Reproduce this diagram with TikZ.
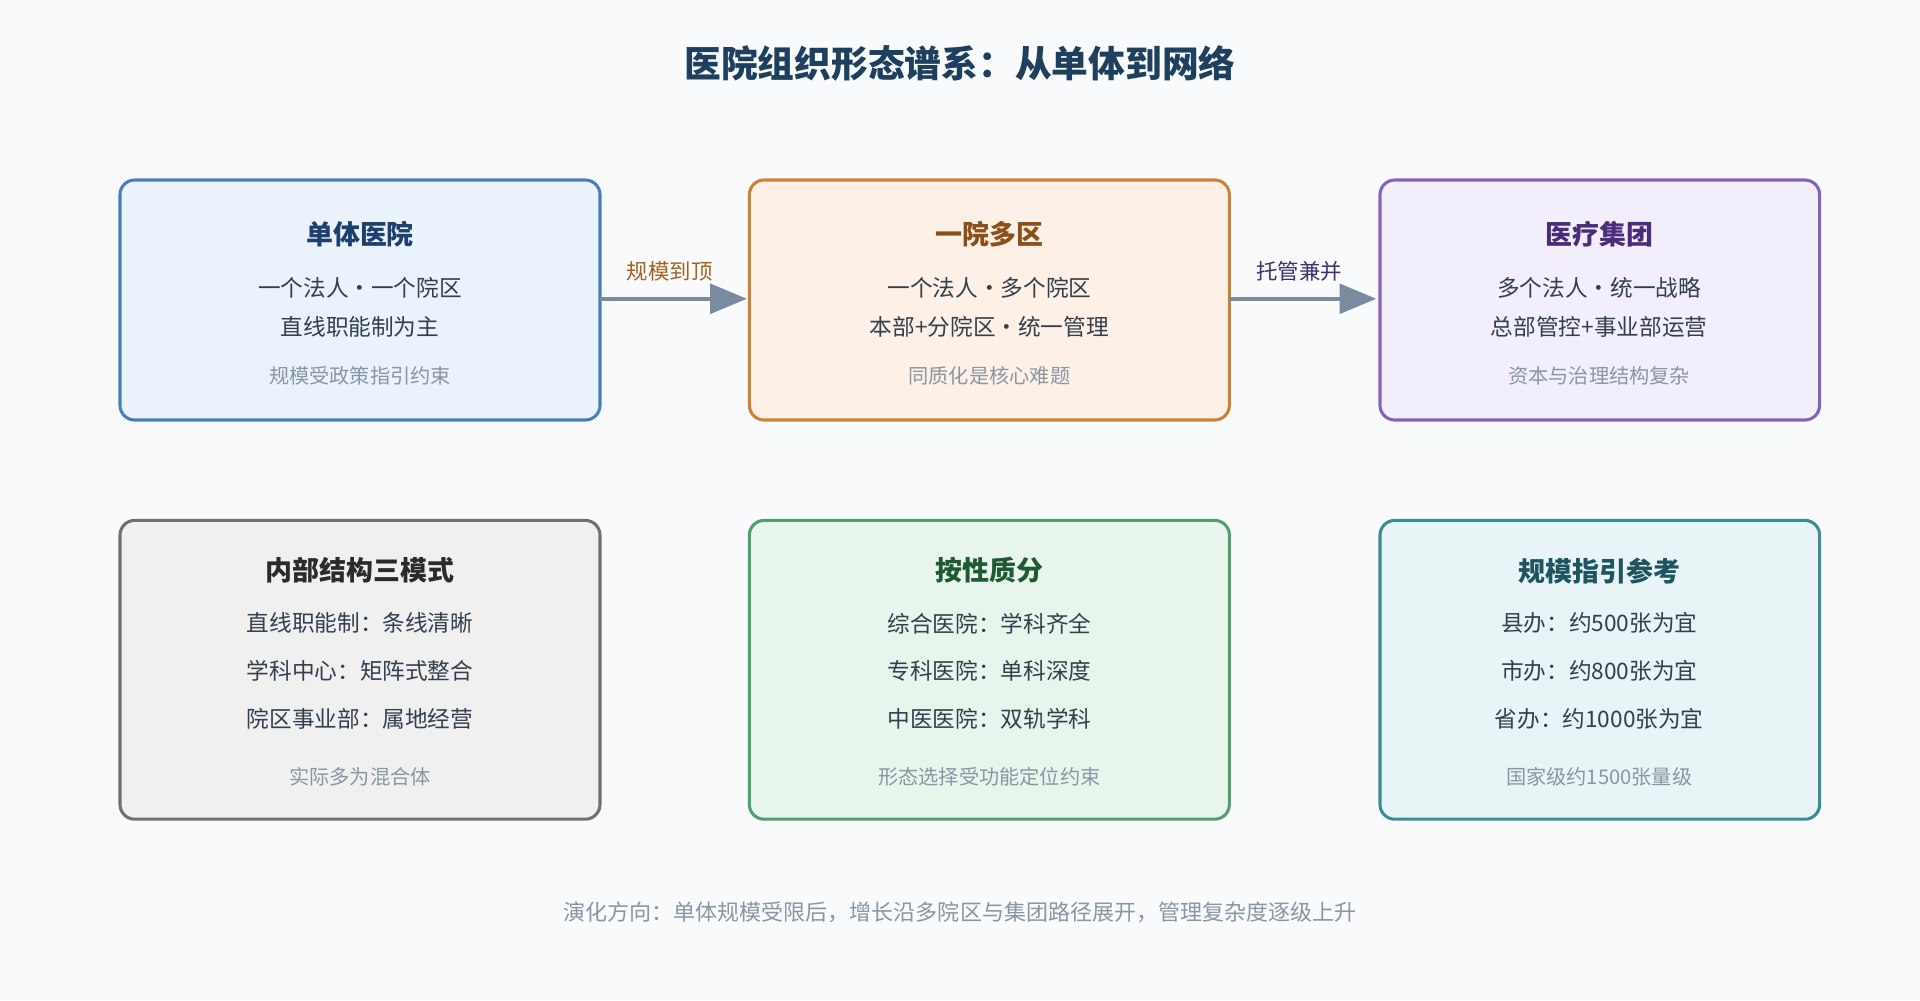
\documentclass[tikz,border=0pt]{standalone}
\usepackage{fontspec}
\setmainfont{Noto Sans CJK SC}
\usetikzlibrary{arrows.meta}
\definecolor{bg}{HTML}{F8FAFC}
\definecolor{txt}{HTML}{333F4B}
\definecolor{note}{HTML}{8A96A3}
\definecolor{arr}{HTML}{7A8BA0}
\definecolor{ctitle}{HTML}{1F3F5F}
\definecolor{d1}{HTML}{4A7EBB}\definecolor{f1}{HTML}{EAF2FB}\definecolor{t1c}{HTML}{1F3F6F}
\definecolor{d2}{HTML}{CC8236}\definecolor{f2}{HTML}{FDF0E6}\definecolor{t2c}{HTML}{8A5018}
\definecolor{d3}{HTML}{8661B9}\definecolor{f3}{HTML}{F3EEFB}\definecolor{t3c}{HTML}{4B2C7A}
\definecolor{d4}{HTML}{707070}\definecolor{f4}{HTML}{F0F0F0}\definecolor{t4c}{HTML}{2B2B2B}
\definecolor{d5}{HTML}{4EA06E}\definecolor{f5}{HTML}{E8F5EC}\definecolor{t5c}{HTML}{1F5A35}
\definecolor{d6}{HTML}{3A8C95}\definecolor{f6}{HTML}{E8F4F5}\definecolor{t6c}{HTML}{1F5560}
\definecolor{la1}{HTML}{A0641E}\definecolor{la2}{HTML}{3F2F6B}
\begin{document}
\begin{tikzpicture}[x=1pt,y=-1pt,
  box/.style={draw=#1, line width=2.5pt, rounded corners=12pt},
  ttl/.style={font=\fontsize{22}{26}\selectfont\bfseries, text=#1},
  ln/.style={font=\fontsize{18.5}{22}\selectfont, text=txt},
  nt/.style={font=\fontsize{16.5}{20}\selectfont, text=note},
  ar/.style={draw=arr, line width=3.5pt, -{Triangle[length=30pt,width=24pt]}},
  lb/.style={font=\fontsize{17.5}{20}\selectfont, text=#1}]
\fill[bg] (0,0) rectangle (1568,817);
\useasboundingbox (0,0) rectangle (1568,817);
\node[font=\fontsize{30}{36}\selectfont\bfseries, text=ctitle] (title) at (784,52) {医院组织形态谱系：从单体到网络};
% top boxes
\filldraw[box=d1, fill=f1] (98,147) rectangle (490,343);
\coordinate (b1r) at (490,244);
\node[ttl=t1c] (t1) at (294,191) {单体医院};
\node[ln] (l11) at (294,235) {一个法人·一个院区};
\node[ln] (l12) at (294,267) {直线职能制为主};
\node[nt] (n1) at (294,307) {规模受政策指引约束};
\filldraw[box=d2, fill=f2] (612,147) rectangle (1004,343);
\coordinate (b2l) at (610,244);\coordinate (b2r) at (1004,244);
\node[ttl=t2c] (t2) at (808,191) {一院多区};
\node[ln] (l21) at (808,235) {一个法人·多个院区};
\node[ln] (l22) at (808,267) {本部+分院区·统一管理};
\node[nt] (n2) at (808,307) {同质化是核心难题};
\filldraw[box=d3, fill=f3] (1127,147) rectangle (1486,343);
\coordinate (b3l) at (1124,244);
\node[ttl=t3c] (t3) at (1306,191) {医疗集团};
\node[ln] (l31) at (1306,235) {多个法人·统一战略};
\node[ln] (l32) at (1306,267) {总部管控+事业部运营};
\node[nt] (n3) at (1306,307) {资本与治理结构复杂};
\draw[ar] (b1r) -- (b2l);
\draw[ar] (b2r) -- (b3l);
\node[lb=la1] (a1) at (547,222) {规模到顶};
\node[lb=la2] (a2) at (1061,222) {托管兼并};
% bottom boxes
\filldraw[box=d4, fill=f4] (98,425) rectangle (490,669);
\node[ttl=t4c] (t4) at (294,466) {内部结构三模式};
\node[ln] (l41) at (294,509) {直线职能制：条线清晰};
\node[ln] (l42) at (294,548) {学科中心：矩阵式整合};
\node[ln] (l43) at (294,587) {院区事业部：属地经营};
\node[nt] (n4) at (294,634) {实际多为混合体};
\filldraw[box=d5, fill=f5] (612,425) rectangle (1004,669);
\node[ttl=t5c] (t5) at (808,466) {按性质分};
\node[ln] (l51) at (808,509) {综合医院：学科齐全};
\node[ln] (l52) at (808,548) {专科医院：单科深度};
\node[ln] (l53) at (808,587) {中医医院：双轨学科};
\node[nt] (n5) at (808,634) {形态选择受功能定位约束};
\filldraw[box=d6, fill=f6] (1127,425) rectangle (1486,669);
\node[ttl=t6c] (t6) at (1306,466) {规模指引参考};
\node[ln] (l61) at (1306,509) {县办：约500张为宜};
\node[ln] (l62) at (1306,548) {市办：约800张为宜};
\node[ln] (l63) at (1306,587) {省办：约1000张为宜};
\node[nt] (n6) at (1306,634) {国家级约1500张量级};
\node[font=\fontsize{18}{22}\selectfont, text=note] (foot) at (784,745) {演化方向：单体规模受限后，增长沿多院区与集团路径展开，管理复杂度逐级上升};
\end{tikzpicture}
\end{document}
